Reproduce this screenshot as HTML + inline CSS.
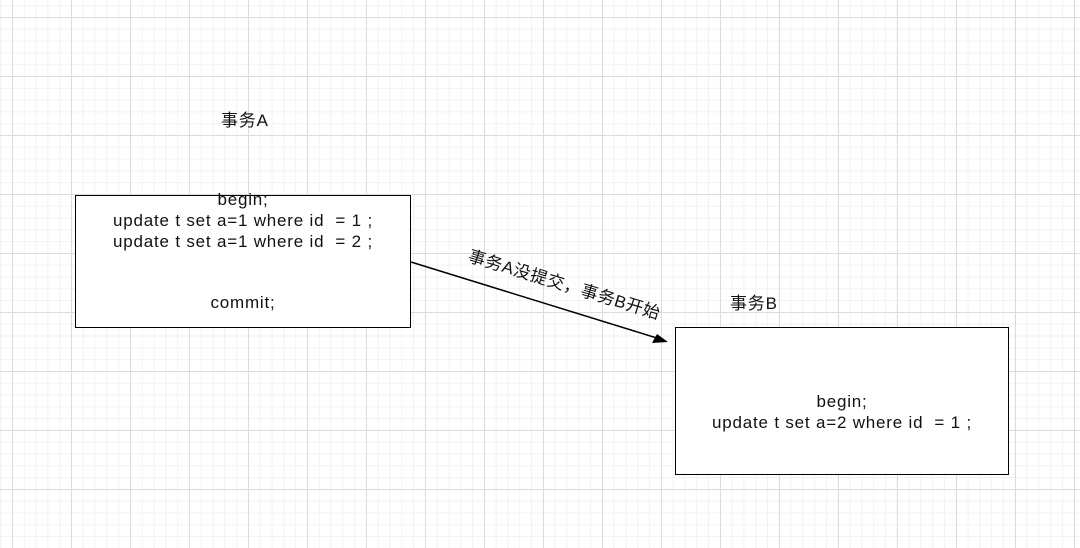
<!DOCTYPE html>
<html><head><style>
body{margin:0;width:1080px;height:548px;overflow:hidden;background:#fff;font-family:"Liberation Sans","Noto Sans CJK SC",sans-serif;}
.grid{position:absolute;left:0;top:0;width:1080px;height:548px;
background-image:
linear-gradient(#dcdcdc 1px,transparent 1px),
linear-gradient(90deg,#dcdcdc 1px,transparent 1px),
linear-gradient(#f2f2f2 1px,transparent 1px),
linear-gradient(90deg,#f2f2f2 1px,transparent 1px);
background-size:59px 59px,59px 59px,11.8px 11.8px,11.8px 11.8px;
background-position:12px 17px,12px 17px,12px 17px,12px 17px;}
.box{position:absolute;border:1.5px solid #000;background:#fff;box-sizing:border-box;}
.t{position:absolute;font-size:17px;letter-spacing:0.8px;color:#111;text-align:center;white-space:nowrap;}
</style></head><body>
<div class="grid"></div>
<div class="t" style="left:221px;top:106px;">事务A</div>
<div class="box" style="left:75px;top:195px;width:336px;height:133px;"></div>
<div class="t" style="left:75px;top:189px;width:336px;line-height:21px;">begin;<br>update t set a=1 where id &nbsp;= 1 ;<br>update t set a=1 where id &nbsp;= 2 ;</div>
<div class="t" style="left:75px;top:293px;width:336px;">commit;</div>
<div class="t" style="left:730px;top:289px;">事务B</div>
<div class="box" style="left:675px;top:327px;width:334px;height:148px;"></div>
<div class="t" style="left:675px;top:391px;width:334px;line-height:21px;">begin;<br>update t set a=2 where id &nbsp;= 1 ;</div>
<svg style="position:absolute;left:0;top:0" width="1080" height="548">
<line x1="411" y1="262" x2="660" y2="339" stroke="#000" stroke-width="1.5"/>
<polygon points="668,342 652,343 657,334" fill="#000"/>
</svg>
<div class="t" style="left:565px;top:283px;transform:translate(-50%,-50%) rotate(17deg);font-size:17px;letter-spacing:0.6px;">事务A没提交，事务B开始</div>
</body></html>
